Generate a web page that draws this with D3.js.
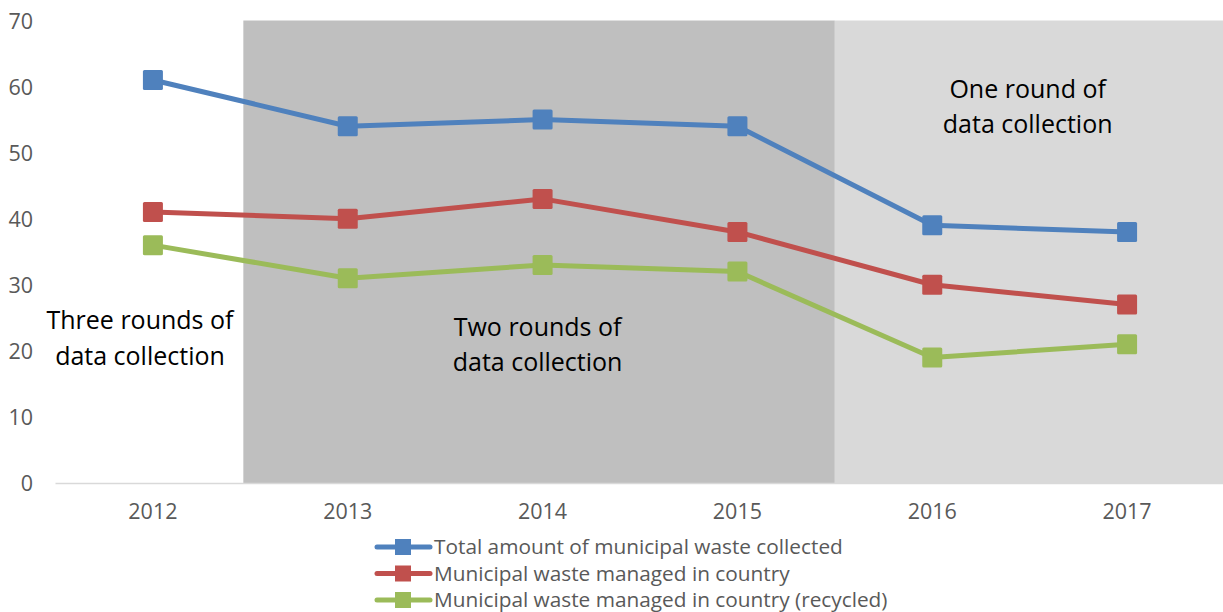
<!DOCTYPE html>
<html>
<head>
<meta charset="utf-8">
<script src="https://cdn.jsdelivr.net/npm/d3@7"></script>
<style>
  body { margin: 0; background: #fff; }
  svg { display: block; font-family: "Open Sans", "Noto Sans", sans-serif; }
</style>
</head>
<body>
<script>
var years = ['2012', '2013', '2014', '2015', '2016', '2017'];
var totalCollected = [61, 54, 55, 54, 39, 38];
var managedInCountry = [41, 40, 43, 38, 30, 27];
var recycled = [36, 31, 33, 32, 19, 21];
var yTicks = [0, 10, 20, 30, 40, 50, 60, 70];

var seriesNames = [
	'Total amount of municipal waste collected',
	'Municipal waste managed in country',
	'Municipal waste managed in country (recycled)'
];
var seriesColors = ['#4f81bd', '#c0504d', '#9bbb59'];

// shaded periods: first and last year covered, plus label lines
var periods = [
	{from: '2013', to: '2015', fill: '#bfbfbf', label: ['Two rounds of', 'data collection'], labelYear: '2014', labelValue: 22.3},
	{from: '2016', to: '2017', fill: '#d9d9d9', label: ['One round of', 'data collection'], labelYear: '2016', labelValue: 58.3}
];
var threeRounds = {label: ['Three rounds of', 'data collection'], labelValue: 23.3};

var width = 1223, height = 612;
var fontFamily = '"Open Sans", "Noto Sans", sans-serif';

var x = d3.scaleBand()
	.domain(years)
	.range([55.5, 1224.5]);

var y = d3.scaleLinear()
	.domain([0, 70])
	.range([483, 20.5]);

var svg = d3.select('body')
	.append('svg')
	.attr('width', width)
	.attr('height', height);

// background bands (first one sits a little left of the 2013 band edge)
svg.selectAll('rect.period')
	.data(periods)
	.enter()
	.append('rect')
	.attr('class', 'period')
	.attr('x', function(d, i){ return x(d.from) - (i === 0 ? 7 : 0); })
	.attr('width', function(d, i){ return x(d.to) + x.bandwidth() - x(d.from) + (i === 0 ? 7 : 0); })
	.attr('y', y(70))
	.attr('height', y(0) - y(70))
	.style('fill', function(d){ return d.fill; });

// baseline
svg.append('line')
	.attr('x1', x.range()[0])
	.attr('x2', x.range()[1])
	.attr('y1', y(0) + 0.5)
	.attr('y2', y(0) + 0.5)
	.style('stroke', '#d9d9d9')
	.style('stroke-width', 1.5);

// y axis labels
var yAxis = d3.axisLeft(y).tickValues(yTicks).tickSize(0).tickPadding(0);
var yg = svg.append('g')
	.attr('transform', 'translate(33,0)')
	.call(yAxis)
	.attr('font-family', fontFamily)
	.attr('font-size', 21.5);
yg.select('.domain').remove();
yg.selectAll('text')
	.style('fill', '#595959')
	.attr('dy', '0.35em');

// x axis labels
var xAxis = d3.axisBottom(x).tickSize(0).tickPadding(0);
var xg = svg.append('g')
	.attr('transform', 'translate(0,' + (y(0) + 21) + ')')
	.call(xAxis)
	.attr('font-family', fontFamily)
	.attr('font-size', 21.5);
xg.select('.domain').remove();
xg.selectAll('text')
	.style('fill', '#595959');

// annotations
var notes = [{cx: 140, value: threeRounds.labelValue, label: threeRounds.label}];
periods.forEach(function(p){
	var cx = p.from === '2016' ? (x('2016') + x('2017') + x.bandwidth()) / 2 - 2 : x(p.labelYear) + x.bandwidth() / 2 - 5;
	notes.push({cx: cx, value: p.labelValue, label: p.label});
});
notes.forEach(function(n){
	var t = svg.append('text')
		.attr('x', n.cx)
		.attr('y', y(n.value))
		.attr('text-anchor', 'middle')
		.style('font-size', '25px')
		.style('fill', '#000');
	n.label.forEach(function(line, i){
		t.append('tspan')
			.attr('x', n.cx)
			.attr('dy', i === 0 ? 0 : 35.5)
			.text(line);
	});
});

// series
var allSeries = [totalCollected, managedInCountry, recycled];
var line = d3.line()
	.x(function(d, i){ return x(years[i]) + x.bandwidth() / 2; })
	.y(function(d){ return y(d); });

allSeries.forEach(function(values, s){
	var g = svg.append('g');
	g.append('path')
		.attr('d', line(values))
		.style('fill', 'none')
		.style('stroke', seriesColors[s])
		.style('stroke-width', 5)
		.style('stroke-linejoin', 'round');
	g.selectAll('rect')
		.data(values)
		.enter()
		.append('rect')
		.attr('x', function(d, i){ return x(years[i]) + x.bandwidth() / 2 - 10; })
		.attr('y', function(d){ return y(d) - 10; })
		.attr('width', 20)
		.attr('height', 20)
		.attr('rx', 1.5)
		.style('fill', seriesColors[s]);
});

// legend
var legend = svg.append('g').attr('transform', 'translate(375,547)');
seriesNames.forEach(function(name, i){
	var row = legend.append('g').attr('transform', 'translate(0,' + (i * 26.5) + ')');
	row.append('line')
		.attr('x1', 2).attr('x2', 55)
		.style('stroke', seriesColors[i])
		.style('stroke-width', 5)
		.style('stroke-linecap', 'round');
	row.append('rect')
		.attr('x', 20).attr('y', -8)
		.attr('width', 16).attr('height', 16)
		.style('fill', seriesColors[i]);
	row.append('text')
		.attr('x', 59)
		.attr('dy', '0.35em')
		.style('font-size', '20.8px')
		.style('fill', '#595959')
		.text(name);
});
</script>
</body>
</html>
